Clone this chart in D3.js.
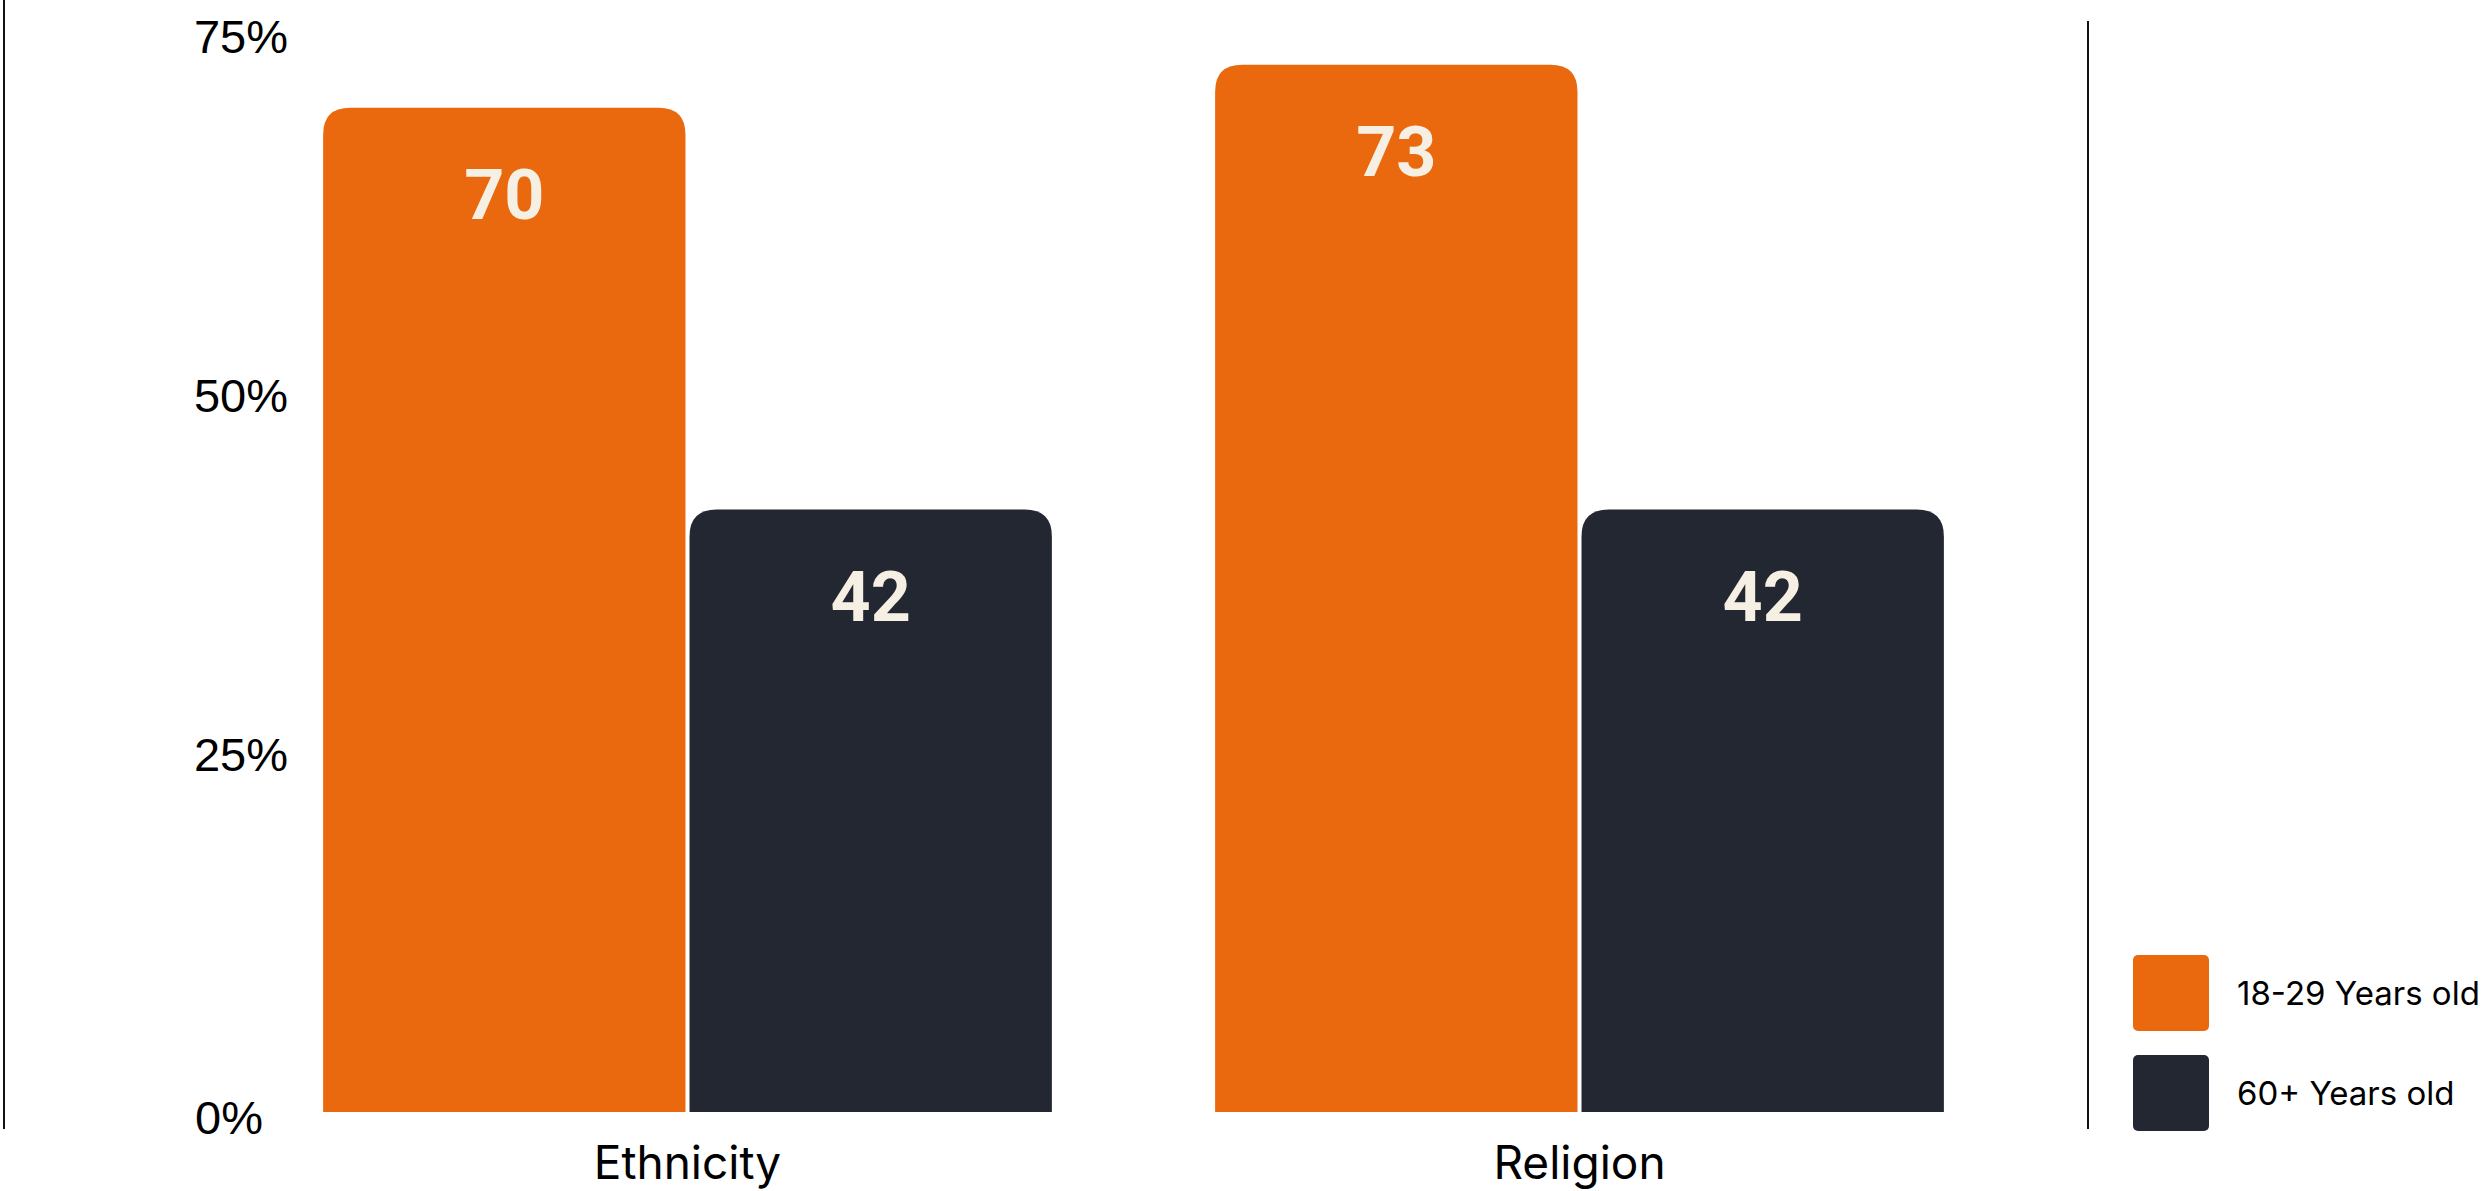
<!DOCTYPE html>
<html>
<head>
<meta charset="utf-8">
<script src="https://cdn.jsdelivr.net/npm/d3@7"></script>
<style>
  html, body { margin: 0; padding: 0; background: #ffffff; }
  svg { display: block; }
</style>
</head>
<body>
<script>
const categories = ["Ethnicity", "Religion"];
const seriesNames = ["18-29 Years old", "60+ Years old"];
const youngValues = [70, 73];
const olderValues = [42, 42];
const tickValues = [0, 25, 50, 75];
const tickLabels = ["0%", "25%", "50%", "75%"];
const seriesColors = ["#EA690E", "#222732"];

const W = 2486, H = 1191;
const svg = d3.select("body").append("svg").attr("width", W).attr("height", H);

const y = d3.scaleLinear().domain([0, 75]).range([1112, 36]);
const x0 = d3.scaleBand().domain(categories).range([241.5, 2025.5]).paddingInner(0.183).paddingOuter(0.0915);
const x1 = d3.scaleBand().domain(seriesNames).range([0, x0.bandwidth()]).paddingInner(0.011).paddingOuter(0);
const color = d3.scaleOrdinal().domain(seriesNames).range(seriesColors);

const rows = categories.map((c, i) => ({
  category: c,
  values: [
    { series: seriesNames[0], value: youngValues[i] },
    { series: seriesNames[1], value: olderValues[i] }
  ]
}));

// frame lines
svg.append("line").attr("x1", 4).attr("x2", 4).attr("y1", 0).attr("y2", 1129)
  .attr("stroke", "#111").attr("stroke-width", 2);
svg.append("line").attr("x1", 2088).attr("x2", 2088).attr("y1", 21).attr("y2", 1129)
  .attr("stroke", "#111").attr("stroke-width", 2);

// y axis labels
const yAxis = d3.axisLeft(y).tickValues(tickValues).tickSize(0).tickPadding(0)
  .tickFormat((d, i) => tickLabels[i]);
const yg = svg.append("g").attr("transform", "translate(288,0)").call(yAxis);
yg.select(".domain").remove();
yg.selectAll("text")
  .attr("font-family", "'Liberation Sans', Arial, sans-serif")
  .attr("font-size", 47)
  .attr("fill", "#000")
  .attr("dy", "0.36em")
  .attr("x", d => d === 0 ? -25 : 0)
  .attr("y", d => d === 0 ? 5 : 0);

// x axis labels
const xAxis = d3.axisBottom(x0).tickSize(0).tickPadding(0);
const xg = svg.append("g").attr("transform", "translate(0,1112)").call(xAxis);
xg.select(".domain").remove();
xg.selectAll("text")
  .attr("font-family", "Inter, 'Noto Sans', sans-serif")
  .attr("font-size", 46)
  .attr("fill", "#000")
  .attr("y", 67)
  .attr("dy", 0);

function topRounded(x, yTop, w, h, r) {
  r = Math.min(r, w / 2, h);
  return `M${x},${yTop + h}V${yTop + r}Q${x},${yTop} ${x + r},${yTop}H${x + w - r}Q${x + w},${yTop} ${x + w},${yTop + r}V${yTop + h}Z`;
}

const groups = svg.selectAll("g.grp").data(rows).enter().append("g")
  .attr("class", "grp")
  .attr("transform", d => `translate(${x0(d.category)},0)`);

groups.selectAll("path.bar").data(d => d.values).enter().append("path")
  .attr("class", "bar")
  .attr("d", d => topRounded(x1(d.series), y(d.value), x1.bandwidth(), y(0) - y(d.value), 27))
  .attr("fill", d => color(d.series));

groups.selectAll("text.val").data(d => d.values).enter().append("text")
  .attr("class", "val")
  .attr("x", d => x1(d.series) + x1.bandwidth() / 2)
  .attr("y", d => y(d.value) + 86)
  .attr("dy", "0.36em")
  .attr("text-anchor", "middle")
  .attr("font-family", "Roboto, 'DejaVu Sans', sans-serif")
  .attr("font-weight", 700)
  .attr("font-size", 70)
  .attr("fill", "#F5F0E3")
  .text(d => d.value);

// legend
const legend = svg.append("g").attr("transform", "translate(2133,955)");
const li = legend.selectAll("g").data(seriesNames).enter().append("g")
  .attr("transform", (d, i) => `translate(0,${i * 100})`);
li.append("rect").attr("width", 76).attr("height", 76).attr("rx", 5).attr("ry", 5)
  .attr("fill", d => color(d));
li.append("text").attr("x", 104).attr("y", 38).attr("dy", "0.35em")
  .attr("font-family", "Inter, 'Noto Sans', sans-serif")
  .attr("font-size", 33)
  .attr("fill", "#000")
  .text(d => d);
</script>
</body>
</html>
